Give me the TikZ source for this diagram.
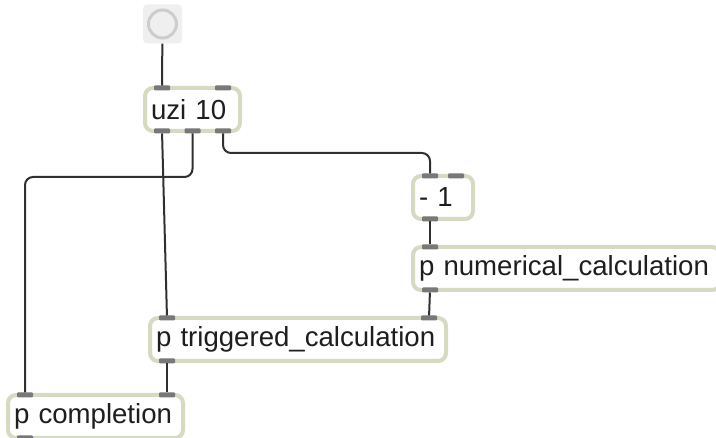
\documentclass[tikz,border=0pt]{standalone}
\usepackage{fontspec}
\setmainfont{Liberation Sans}
\usetikzlibrary{calc}

\definecolor{rim}{HTML}{D4DBC1}
\definecolor{portgrey}{HTML}{787878}
\definecolor{wirecol}{HTML}{303030}
\definecolor{ink}{HTML}{1E1E1E}
\definecolor{btnbg}{HTML}{EFEFEF}
\definecolor{ringgrey}{HTML}{CDCDCD}

\begin{document}
\begin{tikzpicture}
  [x=1pt,y=-1pt,
   obj/.style={draw=rim,line width=4pt,rounded corners=8pt,fill=white,outer sep=0pt,
     anchor=north west,minimum height=43pt,inner xsep=6pt,align=left,text width=#1,
     font=\fontsize{27.6}{33}\selectfont,text=ink},
   port/.style={fill=portgrey,minimum width=16pt,minimum height=5pt,inner sep=0pt,
     outer sep=0pt,rounded corners=1pt},
   bangbox/.style={fill=btnbg,minimum size=39pt,inner sep=0pt,rounded corners=4pt},
   wire/.style={draw=wirecol,line width=2pt,rounded corners=8pt}]
  \useasboundingbox (0,0) rectangle (716,438);

  \node[bangbox] (bang) at (162.5,24) {};
  \draw[ringgrey,line width=3pt] (bang.center) circle (14);

  \node[obj=83] (uzi) at (145,88) {uzi 10};
  \node[obj=48] (minus) at (413,176) {- 1};
  \node[obj=295] (numcalc) at (413,247) {p numerical\_calculation};
  \node[obj=284] (trig) at (150,318) {p triggered\_calculation};
  \node[obj=163] (compl) at (8,395) {p completion};

  % inlets and outlets
  \node[port] (uzi-in1)  at ($(uzi.north west)+(17,0)$) {};
  \node[port] (uzi-in2)  at ($(uzi.north east)+(-17,0)$) {};
  \node[port] (uzi-out1) at ($(uzi.south west)+(17,0)$) {};
  \node[port] (uzi-out2) at (uzi.south) {};
  \node[port] (uzi-out3) at ($(uzi.south east)+(-17,0)$) {};
  \node[port] (minus-in1)  at ($(minus.north west)+(17,0)$) {};
  \node[port] (minus-in2)  at ($(minus.north east)+(-17,0)$) {};
  \node[port] (minus-out1) at ($(minus.south west)+(17,0)$) {};
  \node[port] (numcalc-in1)  at ($(numcalc.north west)+(17,0)$) {};
  \node[port] (numcalc-out1) at ($(numcalc.south west)+(17,0)$) {};
  \node[port] (trig-in1)  at ($(trig.north west)+(17,0)$) {};
  \node[port] (trig-in2)  at ($(trig.north east)+(-17,0)$) {};
  \node[port] (trig-out1) at ($(trig.south west)+(17,0)$) {};
  \node[port] (compl-in1)  at ($(compl.north west)+(17,0)$) {};
  \node[port] (compl-in2)  at (trig-out1 |- compl.north) {};
  \node[port] (compl-out1) at ($(compl.south west)+(17,0)$) {};

  % patch cords
  \foreach \from/\to in {bang/uzi-in1,uzi-out1/trig-in1,minus-out1/numcalc-in1,
      numcalc-out1/trig-in2,trig-out1/compl-in2}
    \draw[wire] (\from) -- (\to);
  \draw[wire] (uzi-out2) -- ++(0,46) -| (compl-in1);
  \draw[wire] (uzi-out3) -- ++(0,22) -| (minus-in1);

\end{tikzpicture}
\end{document}
